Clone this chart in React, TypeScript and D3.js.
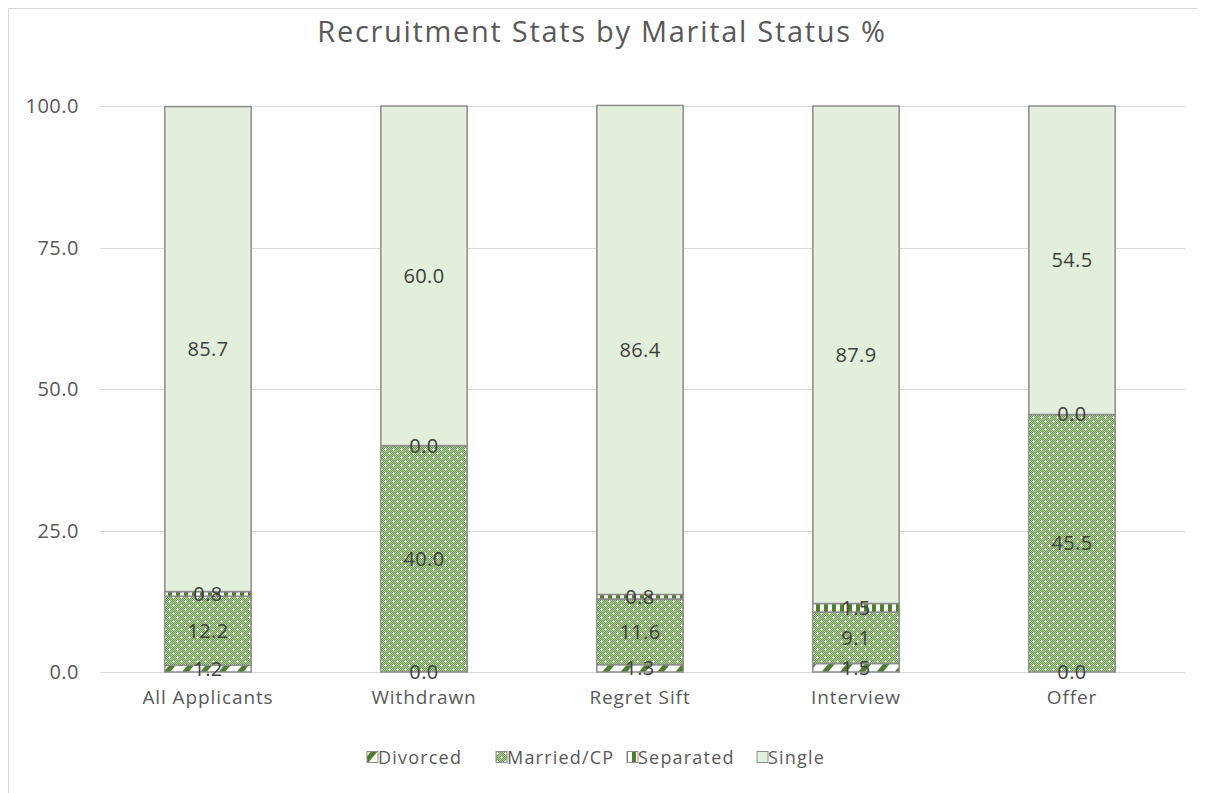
import React from "react";
import * as d3 from "d3";

const categories = ["All Applicants", "Withdrawn", "Regret Sift", "Interview", "Offer"];
const seriesNames = ["Divorced", "Married/CP", "Separated", "Single"];
const divorced = [1.2, 0.0, 1.3, 1.5, 0.0];
const married = [12.2, 40.0, 11.6, 9.1, 45.5];
const separated = [0.8, 0.0, 0.8, 1.5, 0.0];
const single = [85.7, 60.0, 86.4, 87.9, 54.5];
const yTicks = [0, 25, 50, 75, 100];

const W = 1197;
const H = 785;
const FONT = "'Open Sans', 'Noto Sans', sans-serif";

export default function App() {
  const x = d3.scaleBand<string>().domain(categories).range([92, 1172]).paddingInner(0.6).paddingOuter(0.3);
  const y = d3.scaleLinear().domain([0, 100]).range([664, 98]);
  const rows = categories.map((c, i) => ({
    cat: c,
    Divorced: divorced[i],
    "Married/CP": married[i],
    Separated: separated[i],
    Single: single[i],
  }));
  const stack = d3.stack<any>().keys(seriesNames)(rows);
  const fills = ["url(#pDiv)", "url(#pMar)", "url(#pSep)", "#E2EFDA"];

  const legendX = [359, 488, 619, 749];

  return (
    <svg width={W} height={H} style={{ display: "block" }} fontFamily={FONT}>
      <defs>
        <pattern id="pDiv" width="14" height="14" patternUnits="userSpaceOnUse" patternTransform="rotate(40)">
          <rect width="14" height="14" fill="#ffffff" />
          <rect x="0" y="0" width="5" height="14" fill="#4E7F2E" />
        </pattern>
        <pattern id="pChk" width="2" height="2" patternUnits="userSpaceOnUse">
          <rect width="2" height="2" fill="#B4D0A0" />
          <rect x="0" y="0" width="1" height="1" fill="#67984A" />
          <rect x="1" y="1" width="1" height="1" fill="#67984A" />
        </pattern>
        <pattern id="pMar" width="8" height="8" patternUnits="userSpaceOnUse">
          <rect width="8" height="8" fill="url(#pChk)" />
          <rect x="1" y="0" width="1" height="3" fill="#ffffff" />
          <rect x="0" y="1" width="3" height="1" fill="#ffffff" />
          <rect x="5" y="4" width="1" height="3" fill="#ffffff" />
          <rect x="4" y="5" width="3" height="1" fill="#ffffff" />
        </pattern>
        <pattern id="pSep" width="8" height="8" patternUnits="userSpaceOnUse">
          <rect width="8" height="8" fill="#ffffff" />
          <rect x="0" y="0" width="4" height="8" fill="#4E7F2E" />
        </pattern>
      </defs>
      <rect x="0" y="0" width={W} height={H} fill="#ffffff" />
      <line x1="0.5" y1="0" x2="0.5" y2={H} stroke="#D9D9D9" />
      <line x1="0" y1="0.5" x2={W} y2="0.5" stroke="#D9D9D9" />
      <text x={594} y={34} textAnchor="middle" fontSize="29" letterSpacing="1.7" fill="#595959">
        Recruitment Stats by Marital Status %
      </text>
      {yTicks.map((t) => (
        <g key={t}>
          <line x1={92} x2={1177} y1={Math.round(y(t)) + 0.5} y2={Math.round(y(t)) + 0.5} stroke="#D9D9D9" />
          <text x={71} y={y(t) + 7} textAnchor="end" fontSize="20" letterSpacing="0.5" fill="#595959">
            {t.toFixed(1)}
          </text>
        </g>
      ))}
      {stack.map((s, si) =>
        s.map((d, i) => {
          const x0 = x(categories[i])!;
          const y0 = y(d[1]);
          const h = y(d[0]) - y(d[1]);
          return (
            <rect key={si + "-" + i} x={x0} y={y0} width={x.bandwidth()} height={Math.max(0, h)} fill={fills[si]} stroke="#8C8C8C" strokeWidth="1.5" />
          );
        })
      )}
      {stack.map((s, si) =>
        s.map((d, i) => {
          const cx = x(categories[i])! + x.bandwidth() / 2;
          const cy = (y(d[0]) + y(d[1])) / 2;
          return (
            <text key={"l" + si + "-" + i} x={cx} y={cy + 7} textAnchor="middle" fontSize="20" letterSpacing="0.4" fill="#404040">
              {(d[1] - d[0]).toFixed(1)}
            </text>
          );
        })
      )}
      {categories.map((c) => (
        <text key={c} x={x(c)! + x.bandwidth() / 2} y={696} textAnchor="middle" fontSize="19" letterSpacing="0.9" fill="#595959">
          {c}
        </text>
      ))}
      {seriesNames.map((n, i) => (
        <g key={n}>
          <rect x={legendX[i]} y={743.5} width={11} height={11} fill={fills[i]} stroke="#8C8C8C" strokeWidth="1" />
          <text x={legendX[i] + 11} y={756} fontSize="18" letterSpacing="1.2" fill="#595959">
            {n}
          </text>
        </g>
      ))}
    </svg>
  );
}
